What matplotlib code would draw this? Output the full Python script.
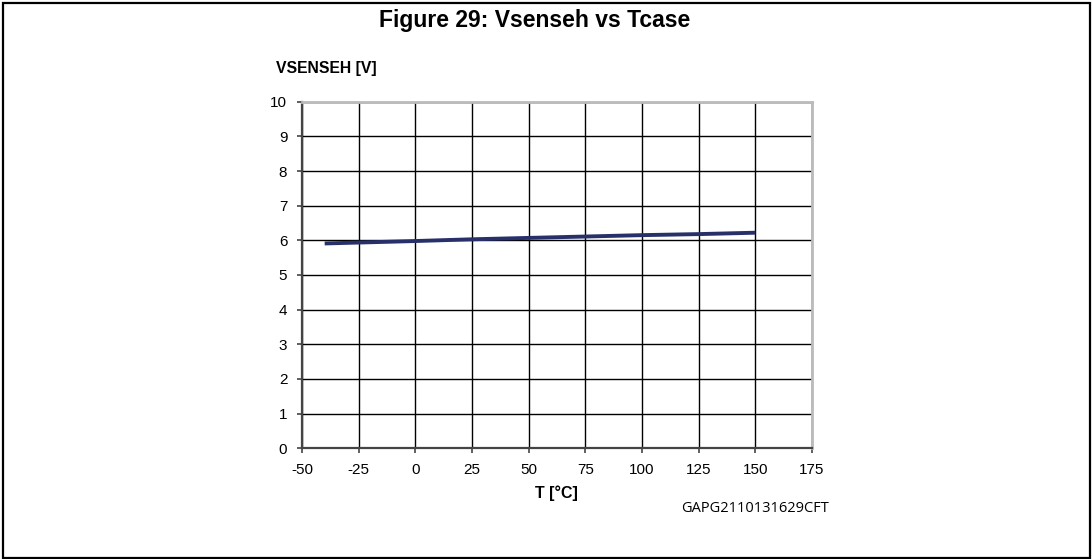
import matplotlib
matplotlib.use('Agg')
import matplotlib.pyplot as plt
from matplotlib.patches import Rectangle

plt.rcParams['font.family'] = ['Liberation Sans', 'DejaVu Sans']

# data
temps = [-40, 0, 25, 50, 75, 100, 125, 150]
vsenseh = [5.91, 5.98, 6.03, 6.07, 6.11, 6.15, 6.18, 6.22]
x_ticks = [-50, -25, 0, 25, 50, 75, 100, 125, 150, 175]
y_ticks = list(range(0, 11))

W, H = 1092, 559
fig = plt.figure(figsize=(W / 100, H / 100), dpi=100)
fig.patch.set_facecolor('white')

# outer frame
fig.add_artist(Rectangle((3 / W, 1.5 / H), (W - 5) / W, (H - 4.5) / H,
                         transform=fig.transFigure, fill=False,
                         edgecolor='black', linewidth=1.6))
fig.text(534.5 / W, 1 - 27 / H, 'Figure 29: Vsenseh vs Tcase',
         ha='center', va='baseline', fontsize=16.5, fontweight='bold')

# axes: x 302..812, y 101.7..448.3 px
ax = fig.add_axes([302 / W, 1 - 448.3 / H, 510 / W, 346.6 / H])
ax.plot(temps, vsenseh, color='#28306a', linewidth=2.8, solid_capstyle='butt')

ax.set_xlim(-50, 175)
ax.set_ylim(0, 10)
ax.set_xticks(x_ticks)
ax.set_yticks(y_ticks)
ax.set_xticklabels([str(v) for v in x_ticks])
ax.grid(True, color='black', linewidth=1.0)
ax.set_axisbelow(True)
ax.tick_params(direction='out', length=3.6, width=1.2, color='#444444',
               labelsize=11, pad=7)
for s in ['left', 'bottom']:
    ax.spines[s].set_color('#444444')
    ax.spines[s].set_linewidth(1.6)
for s in ['top', 'right']:
    ax.spines[s].set_color('#bbbbbb')
    ax.spines[s].set_linewidth(2.0)

fig.text(326 / W, 1 - 68 / H, 'VSENSEH [V]', ha='center', va='center',
         fontsize=11.3, fontweight='bold')
fig.text(556 / W, 1 - 493 / H, 'T [°C]', ha='center', va='center',
         fontsize=11.5, fontweight='bold')
fig.text(755 / W, 1 - 508 / H, 'GAPG2110131629CFT', ha='center', va='center',
         fontsize=10.5, family=['Open Sans', 'DejaVu Sans'])

fig.savefig('out.png', dpi=100, facecolor='white')
